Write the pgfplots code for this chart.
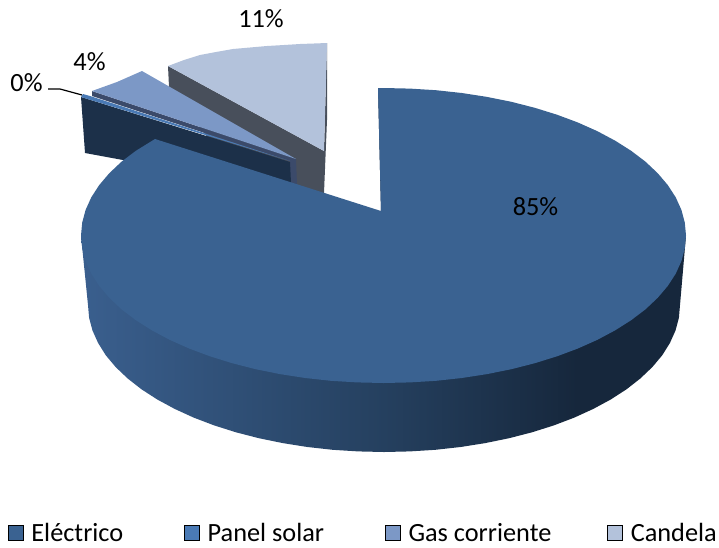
\documentclass[border=0pt]{standalone}
\usepackage{fontspec}
\setmainfont{Carlito}
\usepackage{pgfplots}
\pgfplotsset{compat=1.18}
\definecolor{elec}{HTML}{3A6291}
\definecolor{panel}{HTML}{4A7AB5}
\definecolor{gas}{HTML}{7C98C6}
\definecolor{cand}{HTML}{B3C2DB}
\definecolor{candside}{HTML}{484F5B}
\definecolor{gasside}{HTML}{3B4A6A}
\definecolor{panelside}{HTML}{1C3049}
\definecolor{wallA}{HTML}{3A5F8E}
\definecolor{wallB}{HTML}{25405F}
\definecolor{wallC}{HTML}{16273C}
\pgfdeclarehorizontalshading{wall}{100bp}{color(0bp)=(wallA); color(25bp)=(wallA); color(50bp)=(wallB); color(66bp)=(wallC); color(100bp)=(wallC)}
\newcommand{\lab}{\fontsize{26.3}{30}\selectfont}

\begin{document}
\begin{tikzpicture}
\path[use as bounding box] (0pt,0pt) rectangle (719pt,547pt);
\begin{axis}[
  at={(0pt,0pt)}, anchor=south west,
  width=719pt, height=547pt, scale only axis,
  xmin=0, xmax=719, ymin=0, ymax=547, y dir=reverse,
  hide axis, clip=false, no markers,
  legend columns=4,
  legend style={at={(axis cs:8,533)}, anchor=west, draw=none, fill=none,
    inner sep=0pt, outer sep=0pt, font=\lab, nodes={inner sep=0pt},
    /tikz/every odd column/.append style={column sep=8pt},
    /tikz/every even column/.append style={column sep=61pt}},
  legend cell align=left,
  legend image code/.code={\fill[#1] (0pt,-7.5pt) rectangle (15pt,7.5pt);},
]
\addlegendimage{fill=elec}\addlegendentry{Eléctrico}
\addlegendimage{fill=panel}\addlegendentry{Panel solar}
\addlegendimage{fill=gas}\addlegendentry{\mbox{Gas corriente\kern-5pt}}
\addlegendimage{fill=cand}\addlegendentry{Candela}

% Candela
\addplot[forget plot, draw=none, fill=candside] coordinates {(168,66)(324,151)(327,43)(327,120)(324,193)(250,193)(169,87)};
\addplot[forget plot, draw=none, fill=cand] coordinates {(168,66)(184,60)(200,55)(216,52)(233,49)(250,47.5)(267,46)(284,45)(300,44)(314,43.5)(327,43)(324,151)};
% Gas corriente
\addplot[forget plot, draw=none, fill=gasside] coordinates {(92,91)(296,159)(297,185)(290,185)(290,161)(92,96)};
\addplot[forget plot, draw=none, fill=gas] coordinates {(92,91)(117,82)(142,71)(296,159)};
% Panel solar
\addplot[forget plot, draw=none, fill=panelside] coordinates {(81,97)(290,162)(291,183)(150,165)(85,153)};
\addplot[forget plot, draw=none, fill=panel] coordinates {(83,94)(90,96)(290,161)(81,97)};
% Electrico, side wall
\addplot[forget plot, draw=none, shading=wall] coordinates {
 (686,235.5)(680,305)(678.9,317.8)(675.5,330.5)(669.9,343)(662.2,355.3)(652.3,367.1)(640.3,378.5)
 (626.5,389.3)(610.7,399.5)(593.3,408.9)(574.3,417.6)(553.8,425.4)(532,432.3)(509.1,438.2)(485.2,443.1)
 (460.6,447)(435.4,449.8)(409.8,451.4)(384,452)(358.2,451.4)(332.6,449.8)(307.4,447)(282.8,443.1)
 (258.9,438.2)(236,432.3)(214.2,425.4)(193.7,417.6)(174.7,408.9)(157.3,399.5)(141.5,389.3)(127.7,378.5)
 (115.7,367.1)(105.8,355.3)(98.1,343)(92.5,330.5)(89.1,317.8)(88,305)(81,235.5)};
\addplot[forget plot, draw=none, fill=panelside] coordinates {(378,88)(380,88)(383,212)(381,212)};
% Electrico, top face
\addplot[forget plot, draw=none, fill=elec] coordinates {
 (381,211)(378,88)(383.5,88)(409.9,88.6)(436,90.2)(461.8,93)(487,96.9)(511.3,101.8)(534.8,107.8)
 (557,114.7)(577.9,122.5)(597.4,131.2)(615.2,140.7)(631.3,150.9)(645.5,161.7)(657.7,173.2)(667.8,185.1)
 (675.7,197.3)(681.4,209.9)(684.8,222.6)(686,235.5)(684.8,248.4)(681.4,261.1)(675.7,273.7)(667.8,285.9)
 (657.7,297.8)(645.5,309.3)(631.3,320.1)(615.2,330.3)(597.4,339.8)(577.9,348.5)(557,356.3)(534.8,363.2)
 (511.3,369.2)(487,374.1)(461.8,378)(436,380.8)(409.9,382.4)(383.5,383)(357.1,382.4)(331,380.8)
 (305.2,378)(280,374.1)(255.7,369.2)(232.2,363.2)(210,356.3)(189.1,348.5)(169.6,339.8)(151.8,330.3)
 (135.7,320.1)(121.5,309.3)(109.3,297.8)(99.2,285.9)(91.3,273.7)(85.6,261.1)(82.2,248.4)(81,235.5)
 (82.2,222.6)(85.6,209.9)(91.3,197.3)(99.2,185.1)(109.3,173.2)(121.5,161.7)(135.7,150.9)(155,139)};
% leader line of the 0% label
\addplot[forget plot, black, line width=1.2pt] coordinates {(48,89)(60,89)(82,95)};

\node[font=\lab, inner sep=0pt] at (axis cs:535.5,207) {85\%};
\node[font=\lab, inner sep=0pt] at (axis cs:261,19) {11\%};
\node[font=\lab, inner sep=0pt] at (axis cs:89.5,62) {4\%};
\node[font=\lab, inner sep=0pt] at (axis cs:26.5,83) {0\%};
\end{axis}
\end{tikzpicture}
\end{document}
